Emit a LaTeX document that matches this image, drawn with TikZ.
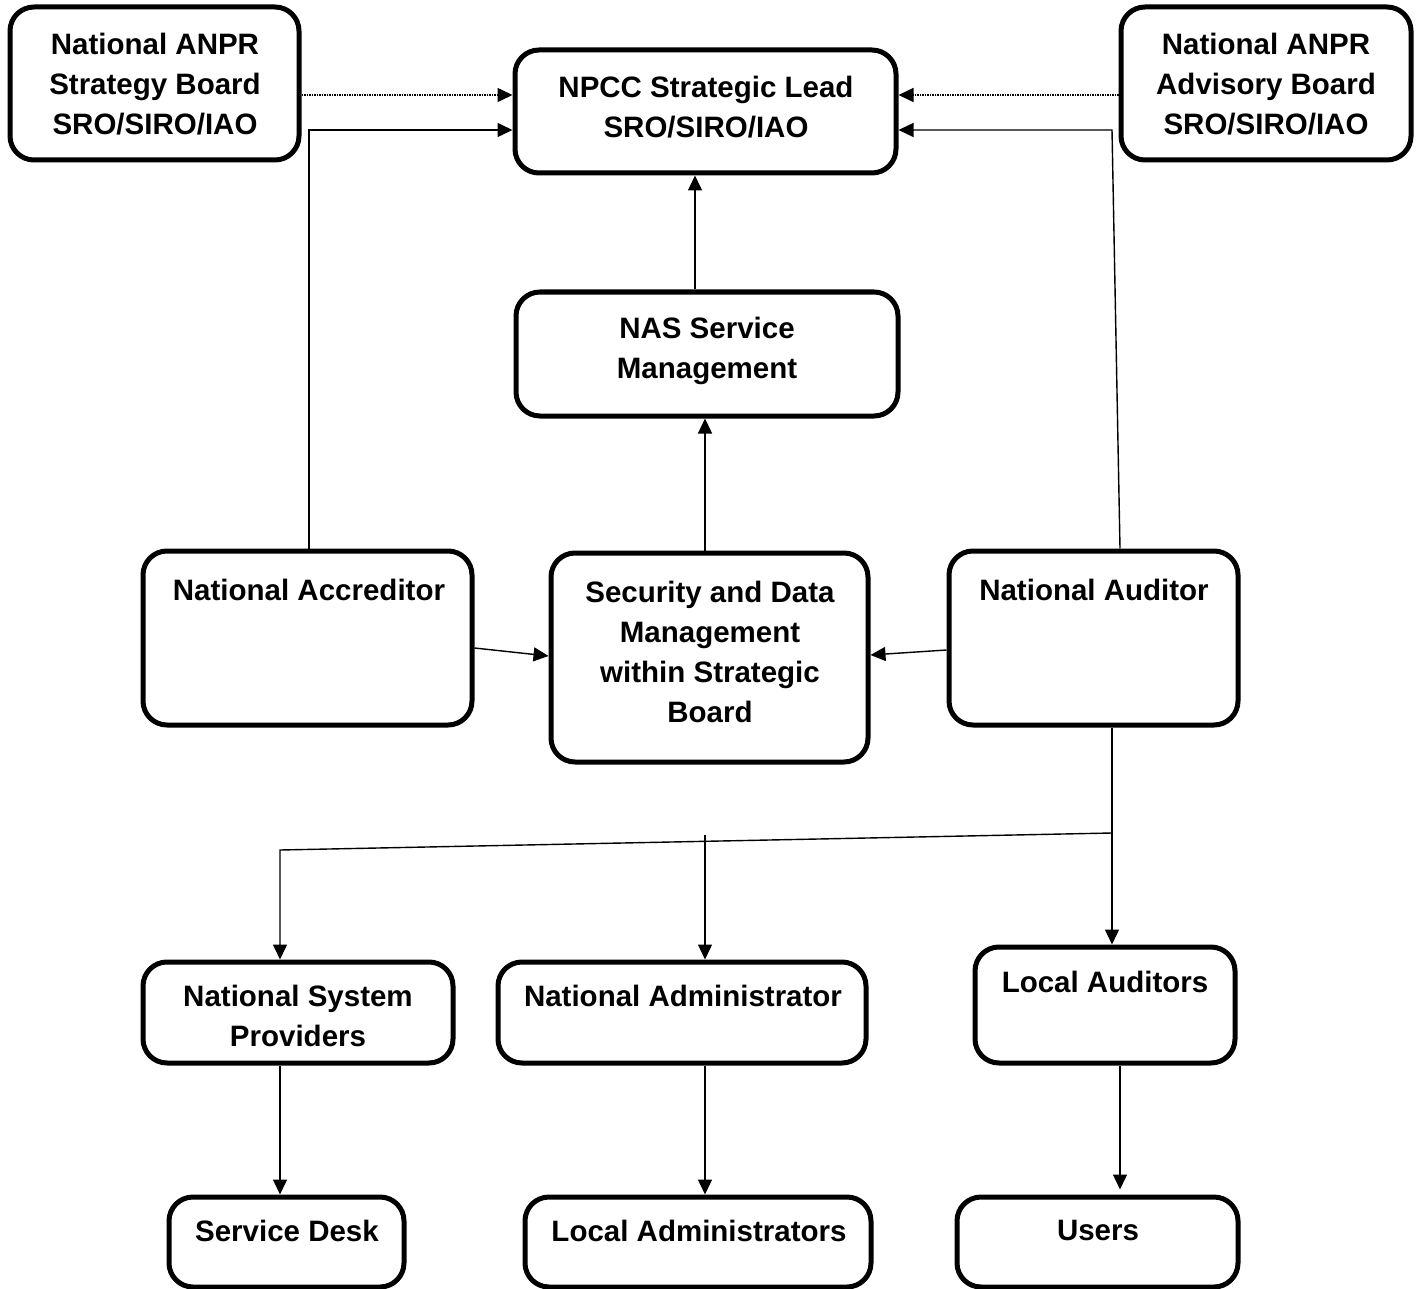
\documentclass[tikz,border=0pt]{standalone}
\usepackage{fontspec}
\setmainfont{Liberation Sans}
\usetikzlibrary{arrows.meta}
\begin{document}
\begin{tikzpicture}[x=1pt,y=-1pt,
  box/.style={draw, line width=5pt, rounded corners=24pt, inner sep=0pt, fill=white},
  lbl/.style={anchor=north, inner sep=0pt, align=center, font=\fontsize{29.5}{40}\selectfont\bfseries},
  conn/.style={line width=1.4pt, -{Triangle[length=15pt,width=14pt]}},
  dotconn/.style={line width=1.4pt, dash pattern=on 1.5pt off 1pt, -{Triangle[length=15pt,width=14pt]}}]
\useasboundingbox (0,0) rectangle (1421,1289);
% helper coordinates
\coordinate (y95) at (0,95);
\coordinate (y130) at (0,130);
\coordinate (y648) at (0,648);
\coordinate (y650) at (0,650);
\coordinate (y655) at (0,655);
\coordinate (y656) at (0,656);
\coordinate (x280) at (280,0);
\coordinate (x309) at (309,0);
\coordinate (x695) at (695,0);
\coordinate (x705) at (705,0);
\coordinate (x1112) at (1112,0);
\coordinate (x1120) at (1120,0);
% boxes
\node[box, minimum width=289, minimum height=153] (sb) at (154.5,83.5) {};
\node[box, minimum width=381, minimum height=123] (npcc) at (705.5,111.5) {};
\node[box, minimum width=290, minimum height=153] (ab) at (1266,83.5) {};
\node[box, minimum width=382, minimum height=124] (nas) at (707,354) {};
\node[box, minimum width=329, minimum height=174] (acc) at (307.5,638) {};
\node[box, minimum width=317, minimum height=209] (sec) at (709.5,657.5) {};
\node[box, minimum width=289, minimum height=174] (aud) at (1093.5,638) {};
\node[box, minimum width=310, minimum height=101] (nsp) at (298,1012.5) {};
\node[box, minimum width=368, minimum height=101] (nadm) at (682,1012.5) {};
\node[box, minimum width=260, minimum height=116] (la) at (1105,1005) {};
\node[box, minimum width=235, minimum height=90] (sd) at (286.5,1242) {};
\node[box, minimum width=346, minimum height=90] (ladm) at (698,1242) {};
\node[box, minimum width=281, minimum height=90] (users) at (1097.5,1242) {};
% labels
\node[lbl] (tsb) at (155,33) {National ANPR\\Strategy Board\\SRO/SIRO/IAO};
\node[lbl] (tnpcc) at (706,76) {NPCC Strategic Lead\\SRO/SIRO/IAO};
\node[lbl] (tab) at (1266,33) {National ANPR\\Advisory Board\\SRO/SIRO/IAO};
\node[lbl] (tnas) at (707,317) {NAS Service\\Management};
\node[lbl] (tacc) at (309,579) {National Accreditor};
\node[lbl] (tsec) at (710,581) {Security and Data\\Management\\within Strategic\\Board};
\node[lbl] (taud) at (1094,579) {National Auditor};
\node[lbl] (tnsp) at (298,985) {National System\\Providers};
\node[lbl] (tnadm) at (683,985) {National Administrator};
\node[lbl] (tla) at (1105,971) {Local Auditors};
\node[lbl] (tsd) at (287,1220) {Service Desk};
\node[lbl] (tladm) at (699,1220) {Local Administrators};
\node[lbl] (tusers) at (1098,1220) {Users};
% connectors
\draw[dotconn] (sb.east |- y95) -- (npcc.west |- y95);
\draw[dotconn] (ab.west |- y95) -- (npcc.east |- y95);
\draw[conn] (acc.north -| x309) |- (npcc.west |- y130);
\coordinate (audbend) at (1112,130);
\draw[conn] (aud.north -| x1120) -- (audbend) -- (npcc.east |- y130);
\draw[conn] (nas.north -| x695) -- (npcc.south -| x695);
\draw[conn] (sec.north -| x705) -- (nas.south -| x705);
\draw[conn] (acc.east |- y648) -- (sec.west |- y656);
\draw[conn] (aud.west |- y650) -- (sec.east |- y655);
\coordinate (br) at (1112,833);
\coordinate (bl) at (280,850);
\coordinate (bm) at (705,835);
\draw[conn] (aud.south -| x1112) -- (la.north -| x1112);
\draw[conn] (br) -- (bl) -- (nsp.north -| x280);
\draw[conn] (bm) -- (nadm.north -| x705);
\draw[conn] (nsp.south -| x280) -- (sd.north -| x280);
\draw[conn] (nadm.south -| x705) -- (ladm.north -| x705);
\draw[conn] (la.south -| x1120) -- ([yshift=5pt]users.north -| x1120);
\end{tikzpicture}
\end{document}
